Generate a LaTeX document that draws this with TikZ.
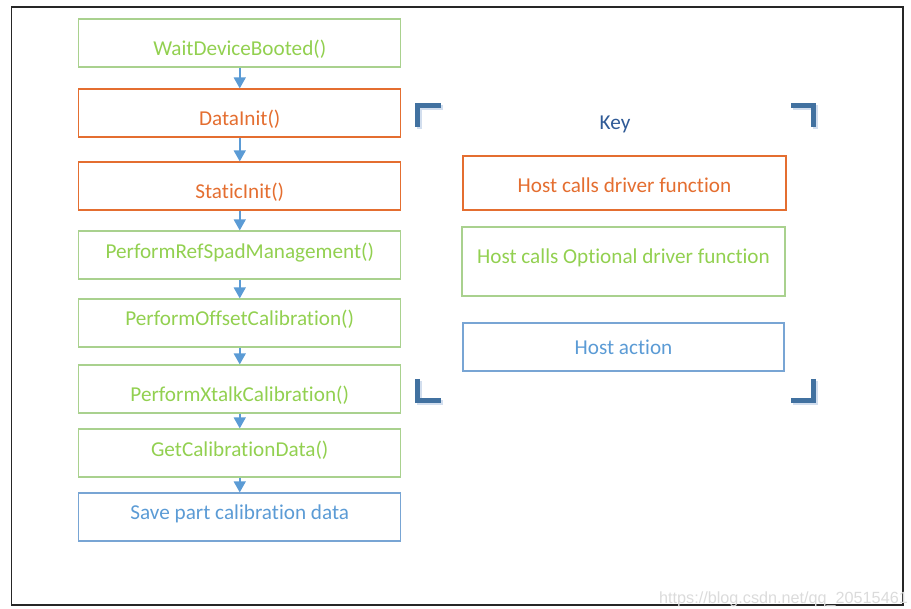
\documentclass[tikz,border=0pt]{standalone}
\usepackage{fontspec}
\setmainfont{Carlito}[Ligatures=NoCommon]
\newfontfamily\wmfont{Liberation Sans}
\usetikzlibrary{arrows.meta}
\definecolor{cgreen}{RGB}{146,208,80}
\definecolor{cgreenb}{RGB}{169,209,142}
\definecolor{corange}{RGB}{228,110,48}
\definecolor{cblue}{RGB}{91,155,213}
\definecolor{cblueb}{RGB}{120,165,212}
\definecolor{ckey}{RGB}{47,90,150}
\definecolor{cbrk}{RGB}{65,113,160}
\definecolor{cshadow}{RGB}{210,222,238}
\begin{document}
\begin{tikzpicture}[x=1pt,y=-1pt,
 box/.style={draw, line width=1.2pt, rectangle, minimum width=322pt, minimum height=48pt, inner sep=0pt, font=\fontsize{21.2}{25}\selectfont, text depth=0pt},
 gbox/.style={box, draw=cgreenb, text=cgreen},
 obox/.style={box, draw=corange, text=corange},
 bbox/.style={box, draw=cblueb, text=cblue},
 flow/.style={draw=cblue, line width=1.5pt, -{Triangle[width=12pt,length=11pt]}},
 brk/.style={draw=cbrk, line width=5pt, line join=miter, line cap=butt},
 brkshadow/.style={draw=cshadow, line width=5pt, line join=miter, line cap=butt}
]
\useasboundingbox (0,0) rectangle (911,609);
\draw[line width=1.3pt, black!85] (11.5,7) rectangle (903,605);

% flow column
\node[gbox, text height=25.4pt] (wait) at (239.75,43) {WaitDeviceBooted()};
\node[obox, text height=24.6pt] (data) at (239.75,113) {DataInit()};
\node[obox, text height=26pt] (static) at (239.75,186) {StaticInit()};
\node[gbox, text height=6.6pt] (spad) at (239.75,255) {PerformRefSpadManagement()};
\node[gbox, text height=6pt] (offset) at (239.75,323) {PerformOffsetCalibration()};
\node[gbox, text height=25.4pt] (xtalk) at (239.75,389) {PerformXtalkCalibration()};
\node[gbox, text height=7.4pt] (getcal) at (239.75,453) {GetCalibrationData()};
\node[bbox, text height=6pt] (save) at (239.75,517) {Save part calibration data};

\draw[flow] (wait) -- (data);
\draw[flow] (data) -- (static);
\draw[flow] (static) -- (spad);
\draw[flow] (spad) -- (offset);
\draw[flow] (offset) -- (xtalk);
\draw[flow] (xtalk) -- (getcal);
\draw[flow] (getcal) -- (save);

% key
\node[anchor=base, inner sep=0pt, text=ckey, font=\fontsize{21.2}{25}\selectfont] (key) at (615,129.3) {Key};
\node[obox, minimum width=323pt, minimum height=54pt, text height=18.6pt] (k1) at (624.5,183) {Host calls driver function};
\node[gbox, minimum width=323pt, minimum height=69pt, text height=3.6pt] (k2) at (623.5,261.5) {Host calls Optional driver function};
\node[bbox, minimum width=321pt, minimum height=48pt, text height=14.6pt] (k3) at (623.5,347) {Host action};

% corner brackets
\begin{scope}[shift={(2,2)}]
\draw[brkshadow] (441,105.5) -- (417.5,105.5) -- (417.5,127);
\draw[brkshadow] (791,105.5) -- (813.5,105.5) -- (813.5,127);
\draw[brkshadow] (417.5,379) -- (417.5,400.5) -- (441,400.5);
\draw[brkshadow] (813.5,379) -- (813.5,400.5) -- (791,400.5);
\end{scope}
\draw[brk] (441,105.5) -- (417.5,105.5) -- (417.5,127);
\draw[brk] (791,105.5) -- (813.5,105.5) -- (813.5,127);
\draw[brk] (417.5,379) -- (417.5,400.5) -- (441,400.5);
\draw[brk] (813.5,379) -- (813.5,400.5) -- (791,400.5);

% watermark
\node[anchor=base east, inner sep=0pt, text=black!14, font=\wmfont\fontsize{16.2}{19}\selectfont] (wm) at (908,603) {https://blog.csdn.net/qq\_20515461};
\end{tikzpicture}
\end{document}
